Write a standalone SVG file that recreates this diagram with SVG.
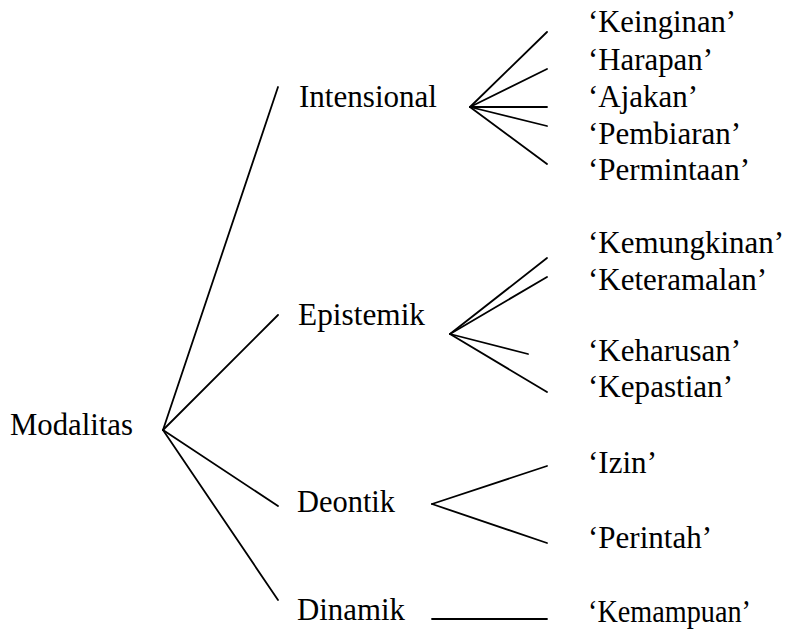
<svg xmlns="http://www.w3.org/2000/svg" width="790" height="629" viewBox="0 0 790 629">
<style>
text{font-family:'Liberation Serif','Times New Roman',serif;font-size:31px;fill:#000}
.c line{stroke:#000;stroke-width:1.8;stroke-linecap:round}
</style>
<rect width="790" height="629" fill="#fff"/>
<g class="c" id="connectors">
<line x1="163" y1="430" x2="278" y2="87"/>
<line x1="163" y1="430" x2="278" y2="315"/>
<line x1="163" y1="430" x2="278" y2="506"/>
<line x1="163" y1="430" x2="278" y2="600"/>
<line x1="470" y1="107" x2="547" y2="32"/>
<line x1="470" y1="107" x2="547" y2="69"/>
<line x1="470" y1="107" x2="547" y2="107"/>
<line x1="470" y1="107" x2="547" y2="126"/>
<line x1="470" y1="107" x2="547" y2="164"/>
<line x1="450" y1="334" x2="547" y2="258"/>
<line x1="450" y1="334" x2="547" y2="277"/>
<line x1="450" y1="334" x2="528" y2="354"/>
<line x1="450" y1="334" x2="547" y2="392"/>
<line x1="432" y1="504" x2="547" y2="466"/>
<line x1="432" y1="504" x2="547" y2="543"/>
<line x1="432" y1="619" x2="547" y2="619"/>
</g>
<g id="modalitas"><text x="10" y="435" textLength="123" lengthAdjust="spacingAndGlyphs">Modalitas</text></g>
<g id="intensional"><text x="299" y="107" textLength="138" lengthAdjust="spacingAndGlyphs">Intensional</text></g>
<g id="epistemik"><text x="298" y="325" textLength="127" lengthAdjust="spacingAndGlyphs">Epistemik</text></g>
<g id="deontik"><text x="297" y="512" textLength="98" lengthAdjust="spacingAndGlyphs">Deontik</text></g>
<g id="dinamik"><text x="297" y="620" textLength="108" lengthAdjust="spacingAndGlyphs">Dinamik</text></g>
<g id="keinginan"><text x="588" y="32" textLength="148" lengthAdjust="spacingAndGlyphs">‘Keinginan’</text></g>
<g id="harapan"><text x="588" y="70" textLength="125" lengthAdjust="spacingAndGlyphs">‘Harapan’</text></g>
<g id="ajakan"><text x="588" y="107" textLength="110" lengthAdjust="spacingAndGlyphs">‘Ajakan’</text></g>
<g id="pembiaran"><text x="588" y="144" textLength="153" lengthAdjust="spacingAndGlyphs">‘Pembiaran’</text></g>
<g id="permintaan"><text x="588" y="180" textLength="162" lengthAdjust="spacingAndGlyphs">‘Permintaan’</text></g>
<g id="kemungkinan"><text x="588" y="253" textLength="196" lengthAdjust="spacingAndGlyphs">‘Kemungkinan’</text></g>
<g id="keteramalan"><text x="588" y="290" textLength="179" lengthAdjust="spacingAndGlyphs">‘Keteramalan’</text></g>
<g id="keharusan"><text x="588" y="361" textLength="153" lengthAdjust="spacingAndGlyphs">‘Keharusan’</text></g>
<g id="kepastian"><text x="588" y="397" textLength="145" lengthAdjust="spacingAndGlyphs">‘Kepastian’</text></g>
<g id="izin"><text x="588" y="473" textLength="69" lengthAdjust="spacingAndGlyphs">‘Izin’</text></g>
<g id="perintah"><text x="588" y="548" textLength="124" lengthAdjust="spacingAndGlyphs">‘Perintah’</text></g>
<g id="kemampuan"><text x="588" y="622" textLength="163" lengthAdjust="spacingAndGlyphs">‘Kemampuan’</text></g>
</svg>
